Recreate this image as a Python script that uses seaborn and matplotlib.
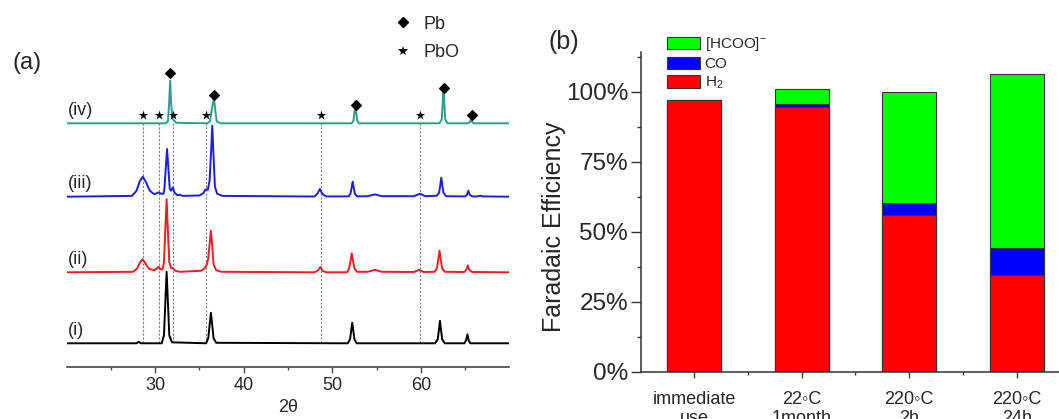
import matplotlib
matplotlib.use("Agg")
import matplotlib.pyplot as plt
from matplotlib.lines import Line2D
from matplotlib.patches import Patch
from matplotlib.ticker import MultipleLocator, FixedLocator
import numpy as np
import seaborn as sns

# ---- panel (a): XRD patterns, intensity (arb. units) ----
x_i = [20, 27.9, 28.15, 28.4, 30.75, 31.0, 31.15, 31.3, 31.45, 31.6,
       31.9, 35.75, 36.0, 36.15, 36.3, 36.45, 36.6, 36.9, 51.75, 52.0,
       52.12, 52.25, 52.38, 52.5, 52.75, 61.6, 61.9, 62.03, 62.15, 62.28,
       62.4, 62.7, 64.9, 65.1, 65.25, 65.4, 65.6, 70]
y_i = [0, 0, 1.5, 0, 0, 8, 40, 71.5, 40, 8,
       1, 0, 5, 18, 30.5, 18, 5, 0.5, 0, 4,
       12, 20.5, 12, 4, 0, 0, 4, 13, 22.5, 13,
       4, 0, 0, 3, 9, 2.5, 0, 0]

x_ii = [20, 27.5, 28.0, 28.3, 28.6, 28.9, 29.3, 29.9, 30.2, 30.4,
        30.6, 30.85, 31.0, 31.15, 31.3, 31.45, 31.6, 31.8, 32.0, 32.3,
        32.8, 35.2, 35.6, 35.85, 36.0, 36.15, 36.3, 36.45, 36.6, 36.9,
        37.5, 48.0, 48.4, 48.65, 48.9, 49.3, 51.65, 51.9, 52.05, 52.2,
        52.35, 52.5, 52.8, 54.0, 54.8, 55.6, 59.2, 59.8, 60.3, 61.55,
        61.8, 61.95, 62.1, 62.25, 62.4, 62.7, 64.9, 65.15, 65.3, 65.45,
        65.8, 70]
y_ii = [0, 0.5, 4, 10, 13, 9, 3.5, 2, 4, 5.5,
        3, 3, 10, 42, 73, 40, 10, 4.5, 4, 1.5,
        0.5, 1.5, 4, 8, 14, 28, 41.6, 26, 8, 2,
        0.5, 0, 2, 5.3, 1.5, 0, 0, 4, 11, 19,
        11, 4, 0.5, 0.5, 2.5, 0.5, 0.3, 2.5, 0.3, 0.5,
        4, 12, 21.6, 12, 4, 0.5, 0.3, 3, 7, 2.5,
        0.3, 0]

x_iii = [20, 27.4, 27.9, 28.25, 28.6, 28.95, 29.4, 29.9, 30.2, 30.4,
         30.65, 30.95, 31.05, 31.2, 31.35, 31.5, 31.65, 31.8, 32.0, 32.2,
         32.5, 32.8, 33.1, 35.0, 35.45, 35.7, 35.95, 36.15, 36.3, 36.45,
         36.6, 36.75, 37.0, 37.6, 48.0, 48.35, 48.6, 48.85, 49.3, 51.85,
         52.05, 52.18, 52.3, 52.42, 52.55, 52.8, 54.0, 54.8, 55.6, 59.2,
         59.9, 60.5, 61.8, 62.05, 62.18, 62.3, 62.42, 62.55, 62.85, 65.0,
         65.2, 65.35, 65.5, 65.8, 66.4, 66.7, 67.0, 70]
y_iii = [0, 0.8, 6, 15, 20, 15, 6, 2.5, 3.5, 4.3,
         3, 3, 8, 28, 47.7, 28, 8, 6, 9.3, 4,
         1.5, 2, 0.8, 1.2, 3.5, 7.3, 7, 16, 42, 71,
         40, 10, 3, 0.8, 0.2, 3.5, 7.7, 3, 0.3, 0.3,
         3, 9, 15, 9, 3, 0.3, 0.5, 2.3, 0.5, 0.5,
         3, 0.5, 1, 4, 11, 19, 11, 4, 0.5, 0.3,
         2, 6, 2, 0.3, 0.3, 1, 0.3, 0]

x_iv = [20, 31.2, 31.45, 31.58, 31.7, 31.82, 31.95, 32.1, 32.4, 35.9,
        36.2, 36.4, 36.52, 36.65, 36.78, 36.95, 37.4, 52.2, 52.4, 52.5,
        52.6, 52.7, 52.8, 53.0, 62.1, 62.35, 62.45, 62.55, 62.65, 62.75,
        63.0, 65.3, 65.5, 65.65, 65.8, 66.0, 70]
y_iv = [0, 0, 2, 20, 42.6, 18, 5, 3, 0.5, 0,
        2, 14, 20, 25, 14, 2, 0, 0, 3, 11,
        21.7, 11, 3, 0, 0, 4, 18, 36.7, 18, 4,
        0, 0, 1, 4, 1, 0, 0]

trace_labels = ["(i)", "(ii)", "(iii)", "(iv)"]
pb_peaks = [31.7, 36.7, 52.7, 62.6, 65.8]
pbo_peaks = [28.6, 30.4, 32.0, 35.7, 48.7, 59.9]

# ---- panel (b): Faradaic efficiency (%) ----
conditions = ["immediate\nuse", "22\u25e6C\n1month", "220\u25e6C\n2h", "220\u25e6C\n24h"]
fe_h2 = [97.0, 94.6, 56.0, 34.4]
fe_co = [0.0, 1.2, 4.2, 9.9]
fe_hcoo = [0.0, 5.1, 39.8, 62.3]

sns.set_style("ticks")
plt.rcParams["font.family"] = ["Liberation Sans", "DejaVu Sans"]
plt.rcParams["mathtext.fontset"] = "custom"
plt.rcParams["mathtext.rm"] = "Liberation Sans"
plt.rcParams["mathtext.it"] = "Liberation Sans:italic"

W, H = 1059, 419
fig = plt.figure(figsize=(W / 100, H / 100), dpi=100)

# ---------------- (a) ----------------
ax = fig.add_axes([66.5 / W, 52 / H, 443 / W, 367 / H])
offsets = [23.7, 94.7, 170.3, 243.7]
colors = ["black", "#ec1c24", "#1c1ce6", "#2a9d8f"]
traces = [(x_i, y_i), (x_ii, y_ii), (x_iii, y_iii), (x_iv, y_iv)]

ax.vlines(pbo_peaks, offsets[0], offsets[3], colors="#808080",
          linestyles=(0, (2, 1.5)), lw=0.8, zorder=1)

for (xs, ys), off, c, lab in zip(traces, offsets, colors, trace_labels):
    sns.lineplot(x=xs, y=np.array(ys) + off, ax=ax, color=c, lw=1.4,
                 sort=False, estimator=None, zorder=3)
    ax.text(20.15, off + 13, lab, fontsize=13, va="center", ha="left")

top_iv = np.interp(pb_peaks, x_iv, y_iv) + offsets[3]
ax.scatter(pb_peaks, top_iv + 7.5, marker="D", s=24, color="black", zorder=4)
star_y = np.full(len(pbo_peaks), offsets[3] + 8.0)
ax.scatter(pbo_peaks, star_y, marker="*", s=50, color="black", lw=0, zorder=4)

handles = [Line2D([], [], marker="D", ls="none", color="black", ms=5),
           Line2D([], [], marker="*", ls="none", color="black", ms=7, mew=0)]
ax.legend(handles, ["Pb", "PbO"], loc="upper left", bbox_to_anchor=(0.736, 0.957),
          frameon=False, fontsize=13, handlelength=1.2, handletextpad=0.5,
          labelspacing=0.62, borderpad=0, borderaxespad=0)

ax.set_xlim(20, 70)
ax.set_ylim(0, 367)
ax.set_yticks([])
for s in ["top", "right", "left"]:
    ax.spines[s].set_visible(False)
ax.spines["bottom"].set_color("#444444")
ax.spines["bottom"].set_linewidth(1.2)
ax.xaxis.set_major_locator(FixedLocator([30, 40, 50, 60]))
ax.xaxis.set_minor_locator(FixedLocator([25, 35, 45, 55, 65]))
ax.tick_params(axis="x", which="major", direction="out", length=4.5, width=1,
               color="#444444", labelsize=13, pad=3)
ax.tick_params(axis="x", which="minor", direction="out", length=2.5, width=1,
               color="#444444")
ax.set_xlabel("2\u03b8", fontsize=13, labelpad=3)

fig.text(12 / W, 1 - 63.3 / H, "(a)", fontsize=17, va="center", ha="left")

# ---------------- (b) ----------------
bx = fig.add_axes([640.5 / W, (H - 371.6) / H, 430 / W, 319.6 / H])
cum_co = [h + c for h, c in zip(fe_h2, fe_co)]
cum_all = [h + c + f for h, c, f in zip(fe_h2, fe_co, fe_hcoo)]
bar_kw = dict(width=0.5, saturation=1, edgecolor="#333333", linewidth=0.8, ax=bx)
sns.barplot(x=conditions, y=cum_all, color="#00ff00", **bar_kw)
sns.barplot(x=conditions, y=cum_co, color="#0000ff", **bar_kw)
sns.barplot(x=conditions, y=fe_h2, color="#ff0000", **bar_kw)

bx.set_xlim(-0.5, 3.5)
bx.set_ylim(0, 114.3)
bx.yaxis.set_major_locator(MultipleLocator(25))
bx.yaxis.set_minor_locator(MultipleLocator(12.5))
bx.set_yticklabels([f"{v:.0f}%" for v in bx.get_yticks()])
bx.xaxis.set_minor_locator(FixedLocator([0.5, 1.5, 2.5]))
for s in ["top", "right"]:
    bx.spines[s].set_visible(False)
for s in ["left", "bottom"]:
    bx.spines[s].set_color("#333333")
    bx.spines[s].set_linewidth(1.1)
bx.tick_params(axis="y", which="major", direction="out", length=7, width=1,
               color="#333333", labelsize=17.5, pad=2)
bx.tick_params(axis="y", which="minor", direction="out", length=3, width=1,
               color="#333333")
bx.tick_params(axis="x", which="major", direction="out", length=4.5, width=1,
               color="#333333", labelsize=13, pad=9.3)
bx.tick_params(axis="x", which="minor", direction="out", length=2.5, width=1,
               color="#333333")
bx.set_xlabel("")
bx.set_ylabel("Faradaic Efficiency", fontsize=18)
bx.yaxis.set_label_coords(-0.174, (371.6 - 227) / 319.6)

leg_handles = [Patch(facecolor="#00ff00", edgecolor="#333333", lw=0.8),
               Patch(facecolor="#0000ff", edgecolor="#333333", lw=0.8),
               Patch(facecolor="#ff0000", edgecolor="#333333", lw=0.8)]
bx.legend(leg_handles, ["[HCOO]$^{-}$", "CO", "H$_2$"], loc="upper left",
          bbox_to_anchor=(0.0612, 1.052), frameon=False, fontsize=11,
          handlelength=2.2, handleheight=0.9, handletextpad=0.27,
          labelspacing=0.22, borderpad=0, borderaxespad=0)

fig.text(548 / W, 1 - 42 / H, "(b)", fontsize=18, va="center", ha="left")

fig.savefig("out.png", dpi=100)
